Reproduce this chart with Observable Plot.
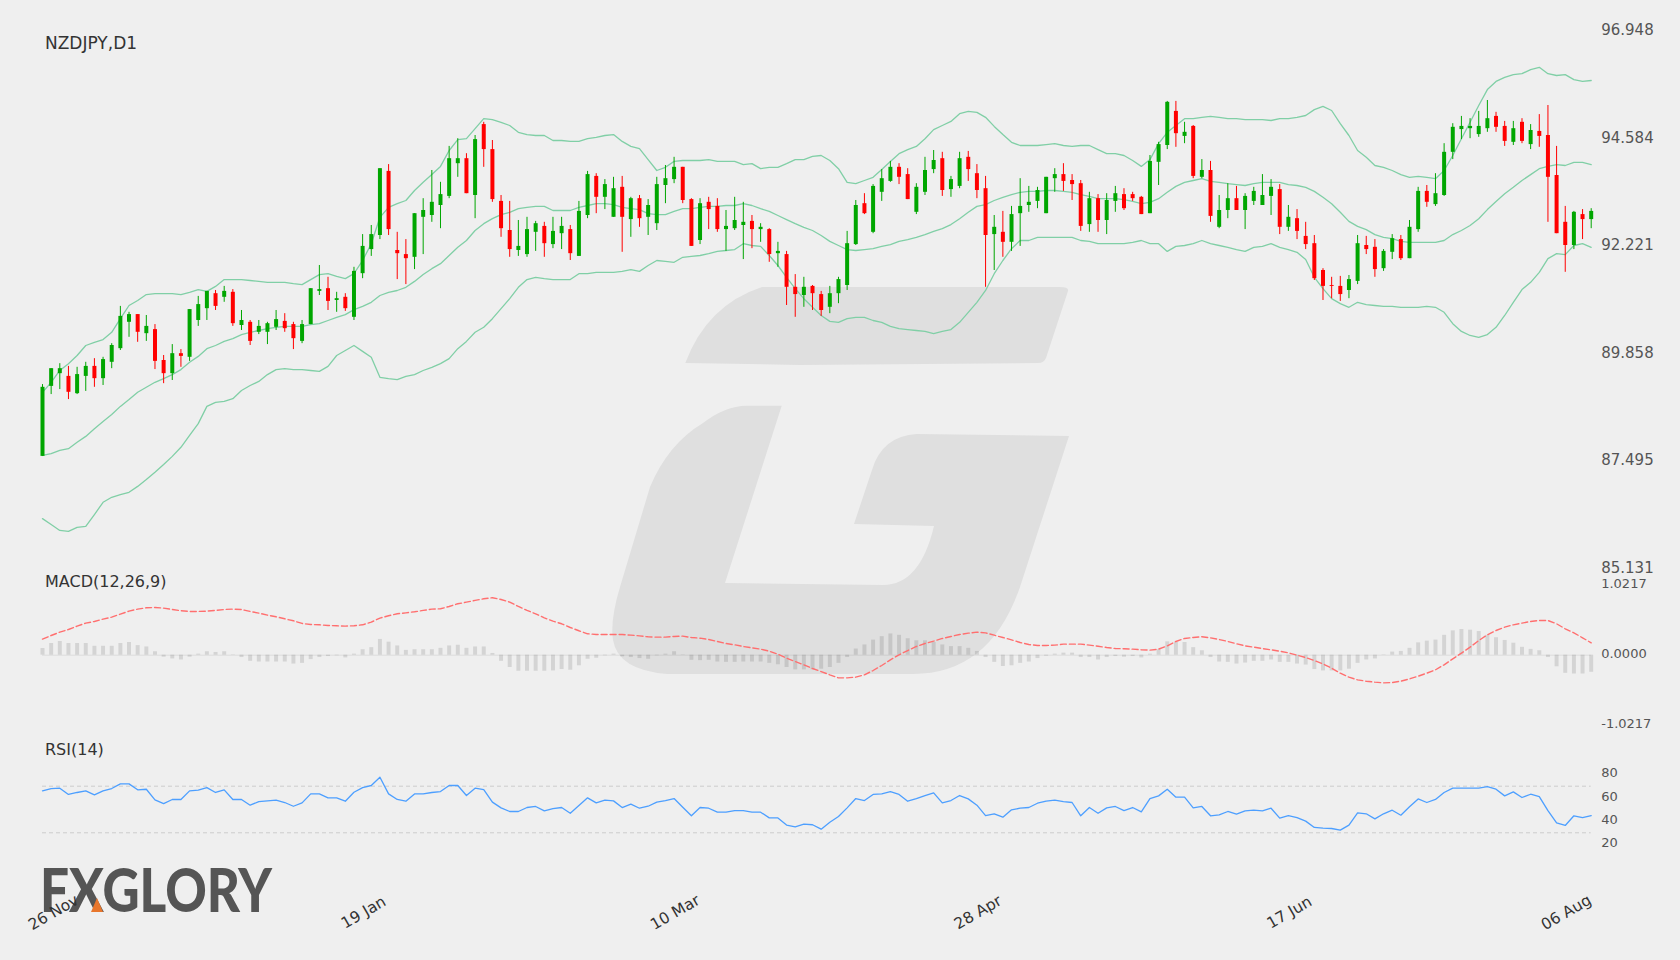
<!DOCTYPE html>
<html><head><meta charset="utf-8">
<script src="https://cdn.jsdelivr.net/npm/d3@7"></script>
<script src="https://cdn.jsdelivr.net/npm/@observablehq/plot@0.6"></script>
<style>
html,body{margin:0;padding:0;background:#efefef;overflow:hidden}
#stage{position:relative;width:1680px;height:960px;overflow:hidden;font-family:"DejaVu Sans",sans-serif}
#stage>svg,#stage>div{position:absolute;left:0}
#bg{top:0}
</style></head><body>
<div id="stage">
<svg id="bg" width="1680" height="960">
<path fill="#dfdfdf" d="M685.3 363Q707 305 762 287L1060 287Q1069 287 1068 291L1046 358Q1044 363 1038 363L800 365Z"/>
<path fill="#dfdfdf" d="M781.7 405.7L746.7 405.7Q725 406 703 423Q668 444 650 487L620 587Q610 620 613 640Q618 670 667 674L913 674Q990 674 1020 587L1069 436L917 434Q882 436 872 470L854 524L934 526Q920 585 883 585L725 583Z"/>
<text x="40" y="912" font-family="Lato" font-weight="900" font-size="60" fill="#555" textLength="232" lengthAdjust="spacingAndGlyphs">FXGLORY</text>
<polygon points="97,898 103,912 91,912" fill="#e8762c"/>
</svg>
</div>
<script>
const opens = [
87.58,89.12,89.40,89.34,88.96,89.34,89.56,89.29,89.65,89.95,
90.53,90.70,90.28,90.37,89.69,89.40,89.84,89.76,90.57,90.83,
91.16,91.08,91.19,90.46,90.53,90.31,90.31,90.42,90.55,90.48,
90.11,90.48,91.21,91.27,91.01,91.08,90.64,91.60,92.13,92.44,
93.85,92.11,92.02,91.96,92.84,92.88,93.10,93.30,94.02,94.13,
93.32,94.88,94.33,93.19,92.55,92.11,92.02,92.51,92.64,92.24,
92.48,92.57,91.98,92.88,93.74,93.28,92.84,93.50,92.79,93.25,
92.84,92.70,93.54,93.67,93.94,93.23,92.33,93.17,93.08,92.57,
92.59,92.66,92.75,92.57,92.57,92.04,92.02,91.30,91.12,91.32,
91.14,90.86,91.16,91.34,92.24,93.14,92.51,93.39,93.63,93.94,
93.78,92.95,93.39,93.89,94.13,93.45,93.52,94.16,93.80,93.47,
92.46,92.51,92.29,92.92,93.10,93.19,92.92,93.69,93.78,93.65,
93.58,92.68,93.25,92.77,93.19,93.34,93.34,93.28,92.92,94.05,
94.42,95.17,94.62,94.84,93.72,93.87,92.62,92.99,93.25,92.99,
93.19,93.10,93.30,93.45,92.62,92.81,92.42,92.26,91.67,91.34,
91.32,91.23,91.43,92.22,92.18,91.71,92.07,92.35,91.93,92.57,
93.41,93.12,93.32,94.27,94.77,94.79,94.66,94.79,95.06,94.84,
94.49,94.93,94.44,94.73,94.64,93.76,92.73,92.22,92.90,92.79];
const closes = [
89.10,89.51,89.51,88.99,89.38,89.56,89.29,89.71,90.02,90.66,
90.70,90.31,90.44,89.67,89.40,89.84,89.78,90.81,90.92,91.21,
90.88,91.21,90.50,90.57,90.11,90.44,90.50,90.59,90.39,90.17,
90.48,91.27,91.25,90.99,91.05,90.83,91.65,92.20,92.46,93.91,
92.57,92.04,91.93,92.92,92.99,93.17,93.34,94.13,94.13,93.36,
94.55,94.33,93.23,92.59,92.13,92.20,92.57,92.70,92.26,92.53,
92.64,92.04,92.97,93.78,93.28,93.56,93.47,92.84,93.25,92.81,
93.10,93.56,93.69,93.94,93.21,92.20,93.14,93.01,92.57,92.64,
92.77,92.73,92.57,92.62,92.02,92.09,91.30,91.14,91.30,91.16,
90.79,91.16,91.47,92.26,93.10,92.92,93.52,93.69,93.94,93.72,
93.23,93.50,93.87,94.09,93.43,93.67,94.13,93.89,93.43,92.44,
92.62,92.29,92.90,93.08,93.17,93.43,93.72,93.78,93.63,93.56,
92.64,93.25,92.77,93.21,93.36,93.03,93.25,92.90,94.07,94.44,
95.37,94.68,94.71,93.74,93.87,92.86,92.99,93.25,92.99,93.30,
93.41,93.32,93.50,92.62,92.84,92.53,92.24,91.49,91.32,91.32,
91.14,91.47,92.26,92.13,91.69,92.09,92.37,91.93,92.62,93.41,
93.17,93.36,94.27,94.82,94.84,94.84,94.84,95.01,94.82,94.51,
94.79,94.51,94.75,94.62,93.72,92.48,92.22,92.95,92.79,92.97];
const highs = [
89.16,89.51,89.62,89.56,89.54,89.65,89.73,89.76,90.06,90.88,
90.75,90.70,90.68,90.48,89.80,90.04,89.93,90.81,91.10,91.21,
91.23,91.32,91.25,90.79,90.57,90.57,90.53,90.79,90.72,90.53,
90.57,91.27,91.78,91.52,91.19,91.16,91.74,92.46,92.66,93.91,
94.00,92.51,92.35,92.92,93.25,93.87,93.61,94.40,94.57,94.24,
94.64,94.93,94.53,93.32,93.19,92.77,92.84,92.75,92.73,92.84,
92.84,92.66,93.19,93.85,93.80,93.67,93.72,93.74,93.28,93.32,
93.23,93.72,93.98,94.16,93.94,93.25,93.25,93.28,93.25,92.99,
93.28,93.17,92.88,92.70,92.59,92.29,92.09,91.58,91.52,91.34,
91.21,91.32,91.52,92.53,93.21,93.36,93.56,93.89,94.07,94.02,
93.91,93.58,94.16,94.31,94.27,93.74,94.27,94.29,94.00,93.74,
92.88,92.97,93.08,93.69,93.52,93.50,93.72,93.91,94.02,93.78,
93.65,93.39,93.34,93.36,93.52,93.47,93.39,93.30,94.20,94.49,
95.39,95.39,94.93,94.86,94.11,94.07,93.32,93.58,93.52,93.36,
93.50,93.78,93.67,93.56,93.10,93.01,92.73,92.44,91.71,91.52,
91.54,91.56,92.44,92.42,92.35,92.13,92.46,92.44,92.77,93.50,
93.54,93.80,94.46,94.90,95.06,95.01,95.17,95.41,95.15,94.95,
94.95,95.01,94.88,95.10,95.30,94.40,93.08,92.97,93.01,93.03];
const lows = [
87.58,88.94,89.05,88.83,88.94,89.01,89.10,89.14,89.51,89.91,
90.20,90.09,90.11,89.49,89.18,89.25,89.54,89.67,90.44,90.57,
90.79,90.97,90.44,90.35,90.02,90.26,90.04,90.35,90.31,89.93,
90.06,90.48,91.12,90.79,90.75,90.77,90.57,91.49,91.98,92.35,
92.44,91.47,91.36,91.69,92.02,92.73,92.59,93.25,93.72,93.36,
92.81,93.94,93.17,92.40,91.96,91.98,91.96,92.09,91.96,92.15,
92.13,91.89,91.98,92.81,92.92,93.01,92.84,92.07,92.40,92.62,
92.44,92.55,93.14,93.58,93.14,92.20,92.24,92.57,92.51,92.09,
92.55,91.91,92.15,92.29,91.85,91.74,90.90,90.64,90.86,90.79,
90.66,90.72,90.94,91.23,92.22,92.90,92.48,93.19,93.61,93.56,
93.23,92.90,93.32,93.80,93.30,93.28,93.47,93.63,93.25,91.30,
91.67,91.96,92.09,92.20,92.95,93.03,92.92,93.39,93.41,93.21,
92.53,92.51,92.51,92.46,92.95,92.99,93.19,92.90,92.92,93.54,
94.33,94.38,94.46,93.69,93.69,92.73,92.59,92.81,92.99,92.57,
93.10,93.10,92.88,92.46,92.53,92.35,92.13,91.45,91.01,91.05,
90.99,91.05,91.36,92.02,91.52,91.65,91.91,91.89,91.93,92.51,
93.06,93.08,93.30,94.11,94.55,94.57,94.60,94.71,94.71,94.40,
94.42,94.46,94.33,94.38,92.73,92.48,91.63,92.13,92.35,92.59];
const bbUpper = [
88.99,89.21,89.47,89.62,89.80,90.02,90.09,90.15,90.31,90.61,90.90,91.01,91.14,91.16,91.16,91.16,91.14,91.19,91.25,91.21,91.32,91.47,91.47,91.47,91.45,91.43,91.41,91.41,91.41,91.38,91.36,91.47,91.58,91.60,91.54,91.49,91.60,91.89,92.26,92.84,93.06,93.14,93.21,93.43,
93.61,93.78,93.96,94.31,94.55,94.57,94.79,95.01,94.99,94.93,94.86,94.71,94.66,94.64,94.64,94.53,94.53,94.51,94.51,94.57,94.60,94.64,94.66,94.51,94.40,94.35,94.11,93.87,93.94,94.07,94.09,94.09,94.09,94.11,94.07,94.07,94.07,94.00,94.02,93.91,93.94,93.94,94.02,94.11,94.11,94.18,
94.20,94.09,93.91,93.61,93.58,93.65,93.72,93.89,94.07,94.24,94.33,94.40,94.57,94.77,94.86,94.95,95.12,95.17,95.15,95.04,94.84,94.66,94.49,94.42,94.42,94.42,94.44,94.46,94.42,94.40,94.42,94.42,94.33,94.24,94.24,94.20,94.09,93.96,94.11,94.46,94.71,94.86,95.01,95.01,95.04,
95.06,95.04,95.01,95.01,94.99,94.99,94.99,94.97,95.01,95.01,95.04,95.08,95.21,95.28,95.19,94.90,94.64,94.31,94.16,93.98,93.94,93.87,93.78,93.72,93.74,93.72,93.69,93.87,94.20,94.57,94.93,95.30,95.65,95.83,95.92,95.98,96.00,96.09,96.14,96.00,95.96,95.98,95.87,95.83,95.85];
const bbMiddle = [
87.60,87.64,87.71,87.75,87.89,88.02,88.19,88.35,88.50,88.68,88.83,88.99,89.10,89.21,89.29,89.38,89.49,89.65,89.78,89.95,90.02,90.11,90.17,90.26,90.31,90.35,90.39,90.42,90.44,90.44,90.44,90.48,90.50,90.57,90.64,90.70,90.81,90.88,90.97,91.12,91.19,91.23,91.30,91.43,
91.58,91.71,91.82,92.00,92.18,92.33,92.55,92.70,92.81,92.90,92.95,93.03,93.06,93.08,93.08,92.99,92.99,92.99,93.06,93.10,93.14,93.14,93.12,93.06,93.03,93.01,92.92,92.90,92.90,92.97,93.03,93.03,93.06,93.08,93.08,93.10,93.10,93.14,93.10,93.03,92.97,92.88,92.79,92.70,92.62,92.55,
92.44,92.31,92.22,92.13,92.11,92.13,92.15,92.20,92.24,92.31,92.35,92.40,92.46,92.53,92.59,92.68,92.81,92.95,93.08,93.12,93.21,93.28,93.34,93.39,93.41,93.41,93.43,93.43,93.41,93.39,93.34,93.30,93.25,93.25,93.25,93.23,93.19,93.14,93.17,93.25,93.39,93.52,93.61,93.65,93.69,
93.63,93.61,93.58,93.56,93.54,93.58,93.61,93.61,93.61,93.56,93.54,93.50,93.41,93.28,93.14,92.95,92.75,92.64,92.57,92.46,92.40,92.37,92.31,92.29,92.29,92.29,92.29,92.33,92.46,92.55,92.66,92.81,93.01,93.19,93.36,93.50,93.65,93.78,93.91,93.96,94.00,93.98,94.05,94.05,94.00];
const bbLower = [
86.21,86.08,85.95,85.93,86.02,86.04,86.30,86.57,86.68,86.74,86.79,86.92,87.07,87.23,87.40,87.58,87.78,88.04,88.30,88.68,88.77,88.79,88.85,89.03,89.14,89.23,89.38,89.49,89.51,89.49,89.49,89.47,89.45,89.56,89.80,89.91,90.02,89.89,89.76,89.32,89.29,89.27,89.34,89.38,
89.47,89.54,89.62,89.73,89.95,90.11,90.31,90.42,90.61,90.83,91.05,91.30,91.47,91.52,91.49,91.47,91.47,91.47,91.60,91.60,91.63,91.63,91.63,91.65,91.69,91.65,91.78,91.89,91.87,91.85,91.96,91.98,92.00,92.04,92.09,92.11,92.13,92.26,92.22,92.20,92.00,91.78,91.52,91.27,91.05,90.86,
90.68,90.55,90.53,90.61,90.64,90.64,90.57,90.53,90.44,90.39,90.37,90.35,90.33,90.28,90.33,90.37,90.53,90.75,90.97,91.23,91.60,91.89,92.15,92.33,92.33,92.40,92.40,92.40,92.40,92.40,92.33,92.31,92.26,92.26,92.26,92.26,92.29,92.33,92.26,92.26,92.09,92.20,92.22,92.26,92.33,
92.26,92.22,92.18,92.13,92.09,92.18,92.20,92.26,92.18,92.13,92.07,91.91,91.52,91.27,91.05,90.94,90.86,90.97,90.92,90.90,90.88,90.88,90.86,90.86,90.86,90.88,90.86,90.75,90.50,90.33,90.24,90.20,90.26,90.42,90.68,90.97,91.25,91.41,91.63,91.93,92.04,92.02,92.22,92.26,92.18];
const macdSignal = [
.234,.287,.336,.375,.424,.468,.492,.526,.555,.599,.643,.672,.692,.696,.687,.667,.648,.638,.638,.643,.653,.667,.672,.667,.638,.614,.584,.56,.531,.502,.463,.448,.443,.433,.429,.424,.429,.443,.482,.541,.575,.604,.618,.633,.653,.672,.677,.711,.75,.774,.799,.823,.838,.813,.774,.711,.653,.604,.545,.497,.458,.404,.356,.312,.302,.302,.302,.302,.292,.282,.268,.263,.263,.273,.278,.258,.248,.229,.2,.17,.151,.127,.107,.088,.058,.015,-.044,-.093,-.141,-.195,-.239,-.287,-.331,
-.331,-.321,-.287,-.224,-.151,-.068,.005,.068,.127,.17,.205,.244,.273,.302,.321,.336,.326,.292,.258,.224,.185,.156,.141,.141,.146,.161,.161,.161,.146,.131,.112,.097,.093,.088,.078,.073,.088,.136,.2,.244,.258,.268,.253,.229,.2,.166,.136,.117,.097,.078,.058,.034,0,-.034,-.078,-.127,-.19,-.263,-.321,-.36,-.38,-.394,-.404,-.399,-.38,-.346,-.307,-.263,-.214,-.141,-.054,.029,.117,.214,.297,.36,.409,.443,.468,.492,.506,.506,.458,.385,.326,.253,.18];
const macdHist = [
.097,.17,.20,.17,.17,.17,.13,.13,.13,.17,.185,.14,.12,.05,-.03,-.055,-.07,-.03,.015,.05,.04,.05,.005,-.035,-.09,-.10,-.10,-.10,-.10,-.13,-.12,-.065,-.035,-.02,-.01,-.04,.015,.08,.11,.23,.19,.135,.07,.08,.08,.08,.10,.135,.145,.10,.12,.12,.025,-.09,-.18,-.235,-.235,-.235,-.235,-.23,-.21,-.22,-.155,
-.06,-.045,-.01,.015,-.025,-.035,-.05,-.06,-.01,.015,.05,.005,-.075,-.08,-.075,-.10,-.105,-.105,-.10,-.10,-.10,-.12,-.14,-.18,-.215,-.215,-.215,-.205,-.18,-.12,-.035,.09,.15,.22,.27,.31,.29,.24,.21,.21,.185,.15,.125,.125,.10,.055,-.035,-.105,-.165,-.155,-.12,-.10,-.05,-.015,.015,.03,.03,-.035,-.035,-.07,
-.035,-.02,-.03,-.02,-.04,.015,.08,.195,.185,.185,.11,.065,-.035,-.10,-.105,-.13,-.115,-.09,-.09,-.07,-.105,-.105,-.13,-.145,-.21,-.23,-.23,-.23,-.205,-.12,-.07,-.055,-.005,.045,.055,.10,.18,.205,.22,.29,.355,.375,.365,.345,.29,.255,.215,.175,.115,.085,.065,-.035,-.17,-.265,-.275,-.275,-.25];
const rsi = [
66,68,68.3,62.9,64.6,66,62.6,66,68,72,72,66.9,67.4,58.3,55.1,58.6,58.6,66,66.6,68.8,64.6,66.9,58.6,58.6,53.7,56.8,57.4,58,56,52.8,55.7,63.4,63.4,60,60,57.1,64.8,68.8,70.6,77.7,63.4,58.6,57.1,63.4,63.4,64.6,65.4,70.6,70.6,62,68.3,67.1,56.3,51.4,48.3,48.3,51.7,52.6,48.8,50.8,51.7,46.8,53.4,60,55.7,58,57.4,51.7,54.6,51.1,52.8,56.3,57.7,59.4,52,44.6,51.7,51.1,47.7,47.7,49.1,49.1,47.7,47.7,42.8,42.8,36.6,35.1,37.4,36.9,33.1,39.1,44,
51.4,59.4,57.7,62.9,63.4,65.4,62.9,57.1,59.4,62,64.3,55.7,57.7,62,59.1,53.7,44.8,46.3,43.4,49.7,51.1,51.7,55.4,57.1,58,56.8,56,44.6,51.7,46.8,51.4,52.6,49.1,51.7,48,59.4,61.7,67.4,60.6,60.6,51.4,52.6,44.6,45.4,48.3,46,48.8,49.4,48.8,51.1,42.6,44.8,43.1,40,34.6,34,33.7,32.3,36.6,47.1,46.3,42,46.3,49.4,45.1,52.3,59.1,56,58.6,64.6,68.3,68.3,68.3,68.3,69.7,67.4,61.7,65.1,60.3,63.1,61.1,49.1,38.6,36.3,44.6,43.1,44.8];
const priceTicks = [85.131,87.495,89.858,92.221,94.584,96.948];
const macdTicks = [-1.0217,0,1.0217];
const rsiTicks = [20,40,60,80];
const rsiLevels = [30,70];
const dateIndex = [0,37,73,108,144,179];
const dateLabels = ["26 Nov","19 Jan","10 Mar","28 Apr","17 Jun","06 Aug"];

const idx = d3.range(opens.length);
const FONT = '"DejaVu Sans", sans-serif';
const GREEN = "#00a600", RED = "#ff0000", BAND = "#80cfa6";
const xScale = {type:"linear", domain:[0,179], range:[42,1590.7], axis:null};
const base = {width:1680, marginLeft:42, marginRight:89.3, marginTop:0, marginBottom:0,
  style:{background:"transparent", fontFamily:FONT}, x:xScale};
const title = (s,dy,fontSize=16)=>Plot.text([s],{frameAnchor:"top-left",dx:2.5,dy,fontSize,fill:"#333",textAnchor:"start",fontFamily:FONT});
const color = i=>closes[i]>=opens[i]?GREEN:RED;
const dateMark = (slice,offset,dx)=>Plot.text(slice,{x:d=>d,text:(d,i)=>dateLabels[i+offset],frameAnchor:"bottom",lineAnchor:"middle",dy:-48,dx,rotate:-30,fontSize:15.5,fill:"#333"});

const main = Plot.plot({...base, height:600,
  y:{domain:[85.131,96.948], range:[567.2,30.1], axis:null},
  marks:[
    Plot.line(idx,{x:i=>i,y:i=>bbUpper[i],stroke:BAND,strokeWidth:1.3}),
    Plot.line(idx,{x:i=>i,y:i=>bbMiddle[i],stroke:BAND,strokeWidth:1.3}),
    Plot.line(idx,{x:i=>i,y:i=>bbLower[i],stroke:BAND,strokeWidth:1.3}),
    Plot.ruleX(idx,{x:i=>i,y1:i=>lows[i],y2:i=>highs[i],stroke:color,strokeWidth:1}),
    Plot.ruleX(idx,{x:i=>i,y1:i=>opens[i],y2:i=>closes[i],stroke:color,strokeWidth:4}),
    Plot.axisY(priceTicks,{anchor:"right",tickSize:0,tickPadding:10,tickFormat:d=>d.toFixed(3),fontSize:15,fill:"#555",label:null}),
    title("NZDJPY,D1",36,17)
  ]});
const macd = Plot.plot({...base, height:185,
  y:{domain:[-1.0217,1.0217], range:[159.67,19.67], axis:null},
  marks:[
    Plot.ruleY([0],{stroke:"#000",strokeOpacity:.08}),
    Plot.ruleX(idx,{x:i=>i,y1:0,y2:i=>macdHist[i],stroke:"#000",strokeOpacity:.11,strokeWidth:4}),
    Plot.line(idx,{x:i=>i,y:i=>macdSignal[i],stroke:"#ff6f6f",strokeWidth:1.4,strokeDasharray:"6,3"}),
    Plot.axisY(macdTicks,{anchor:"right",tickSize:0,tickPadding:10,dy:-1,tickFormat:d=>d.toFixed(4),fontSize:13,fill:"#555",label:null}),
    title("MACD(12,26,9)",10)
  ]});
const rsiPlot = Plot.plot({...base, height:230,
  y:{domain:[20,80], range:[113.95,44.05], axis:null},
  marks:[
    Plot.ruleY(rsiLevels,{stroke:"#ccc",strokeDasharray:"4,3"}),
    Plot.line(idx,{x:i=>i,y:i=>rsi[i],stroke:"#4d9fff",strokeWidth:1.3}),
    Plot.axisY(rsiTicks,{anchor:"right",tickSize:0,tickPadding:10,dy:-1.5,fontSize:13,fill:"#555",label:null}),
    title("RSI(14)",13),
    dateMark(dateIndex.slice(0,1),0,11),
    dateMark(dateIndex.slice(1,5),1,1),
    dateMark(dateIndex.slice(5),5,-25)
  ]});
const stage = document.getElementById("stage");
main.style.top="0px"; macd.style.top="565px"; rsiPlot.style.top="730px";
stage.append(main,macd,rsiPlot);
</script>
</body></html>
